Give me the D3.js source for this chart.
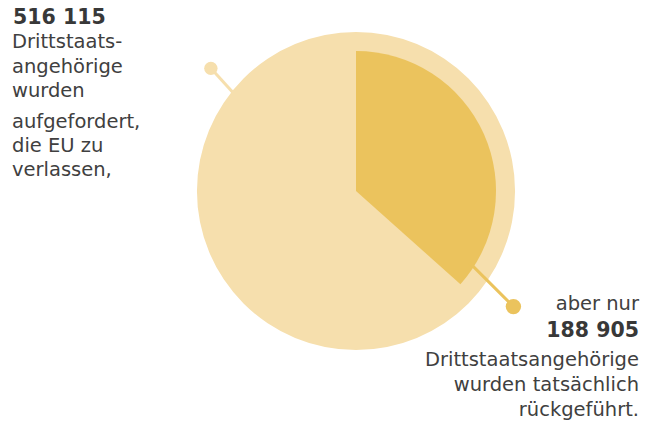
<!DOCTYPE html>
<html lang="de">
<head>
<meta charset="UTF-8">
<title>Rückführungen</title>
<script src="https://d3js.org/d3.v7.min.js"></script>
<style>
html,body{margin:0;padding:0;background:#fff}
svg{display:block}
text{font-family:"DejaVu Sans",sans-serif;fill:#404040}
.num{font-weight:bold;fill:#383838}
</style>
</head>
<body>
<div id="chart"></div>
<script>
// data
var categories = ['aufgefordert', 'rückgeführt'];
var ordered = 516115;
var returned = 188905;
var sliceValues = [returned, ordered - returned];

var leftLines = ['Drittstaats-', 'angehörige', 'wurden', 'aufgefordert,', 'die EU zu', 'verlassen,'];
var rightLines = ['Drittstaatsangehörige', 'wurden tatsächlich', 'rückgeführt.'];
var rightIntro = 'aber nur';

var fmt = function(v) { return d3.format(',')(v).replace(/,/g, ' '); };

var W = 645, H = 429;
var cx = 356, cy = 191;
var rOuter = 159, rSlice = 140;
var light = '#F6DFAD', dark = '#EBC35D';

var svg = d3.select('#chart').append('svg').attr('width', W).attr('height', H);

var pie = d3.pie().sort(null).value(function(d) { return d; });
var arcs = pie(sliceValues);

var g = svg.append('g').attr('transform', 'translate(' + cx + ',' + cy + ')');

// leader for the total (upper left)
var p1 = d3.pointRadial(-49.8 * Math.PI / 180, 190);
g.append('line')
  .attr('x1', p1[0]).attr('y1', p1[1])
  .attr('x2', p1[0] + 30).attr('y2', p1[1] + 33)
  .attr('stroke', light).attr('stroke-width', 3);
g.append('circle').attr('cx', p1[0]).attr('cy', p1[1]).attr('r', 6.7).attr('fill', light);

// total circle
var totalArc = d3.arc().innerRadius(0).outerRadius(rOuter);
g.append('path')
  .attr('d', totalArc({ startAngle: 0, endAngle: 2 * Math.PI }))
  .attr('fill', light);

// returned slice
var sliceArc = d3.arc().innerRadius(0).outerRadius(rSlice);
g.append('path')
  .attr('d', sliceArc(arcs[0]))
  .attr('fill', dark);

// leader for the returned share (lower right)
var p2 = d3.pointRadial(126.3 * Math.PI / 180, 195.3);
g.append('line')
  .attr('x1', p2[0] - 44).attr('y1', p2[1] - 44)
  .attr('x2', p2[0]).attr('y2', p2[1])
  .attr('stroke', dark).attr('stroke-width', 3);
g.append('circle').attr('cx', p2[0]).attr('cy', p2[1]).attr('r', 7.7).attr('fill', dark);

// left text block
var left = svg.append('g');
left.append('text').attr('class', 'num').attr('x', 13).attr('y', 24)
  .style('font-size', '20.5px').text(fmt(ordered));
var leftY = [48, 73, 97, 128, 152, 176];
leftLines.forEach(function(t, i) {
  left.append('text').attr('x', 12).attr('y', leftY[i])
    .style('font-size', '19.5px').text(t);
});

// right text block
var right = svg.append('g').attr('text-anchor', 'end');
right.append('text').attr('x', 639).attr('y', 310).style('font-size', '19.5px').text(rightIntro);
right.append('text').attr('class', 'num').attr('x', 639).attr('y', 337)
  .style('font-size', '20.5px').text(fmt(returned));
var rightY = [366, 391, 416];
rightLines.forEach(function(t, i) {
  right.append('text').attr('x', 639).attr('y', rightY[i])
    .style('font-size', '19.5px').text(t);
});
</script>
</body>
</html>
